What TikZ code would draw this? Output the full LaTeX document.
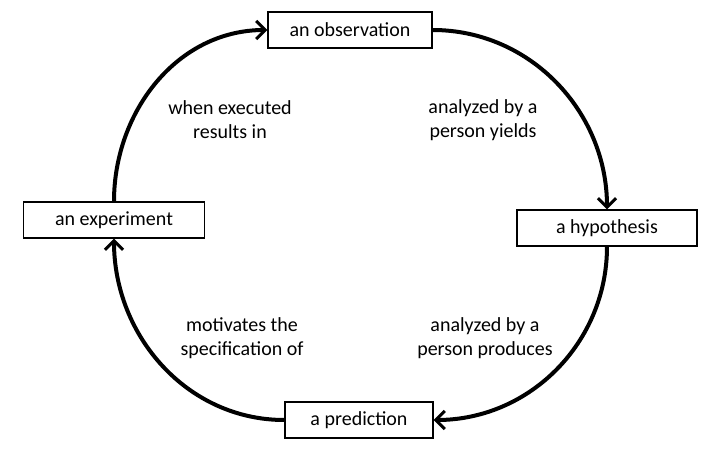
\documentclass[tikz,border=0pt]{standalone}
\usepackage{fontspec}
\setmainfont{Carlito}
\usetikzlibrary{arrows.meta}

\tikzset{
  stagebox/.style={draw, line width=1.3pt, minimum height=36pt, inner sep=2pt, font=\fontsize{20}{23}\selectfont},
  cyclearrow/.style={line width=4pt, -{Straight Barb[length=9pt,width=18pt,line width=3pt]}},
  steplabel/.style={align=center, font=\fontsize{20}{24}\selectfont}
}

\begin{document}
\begin{tikzpicture}[x=1pt,y=-1pt]
  \useasboundingbox (0,0) rectangle (724,460);

  \node (observation) [stagebox, minimum width=164pt] at (350,30) {an observation};
  \node (hypothesis) [stagebox, minimum width=180pt] at (607,228) {a hypothesis};
  \node (prediction) [stagebox, minimum width=148pt] at (359,420) {a prediction};
  \node (experiment) [stagebox, minimum width=181pt] at (114,220) {an experiment};

  \node (yields) [steplabel] at (483,120) {analyzed by a\\person yields};
  \node (produces) [steplabel] at (485,338) {analyzed by a\\person produces};
  \node (motivates) [steplabel] at (242,338) {motivates the\\specification of};
  \node (executed) [steplabel] at (230,120) {when executed\\results in};

  \draw[cyclearrow] (observation.east) to[out=0,in=90] (hypothesis.north);
  \draw[cyclearrow] (hypothesis.south) to[out=-90,in=0] (prediction.east);
  \draw[cyclearrow] (prediction.west) to[out=180,in=-90] (experiment.south);
  \draw[cyclearrow] (experiment.north) to[out=90,in=180] (observation.west);
\end{tikzpicture}
\end{document}
